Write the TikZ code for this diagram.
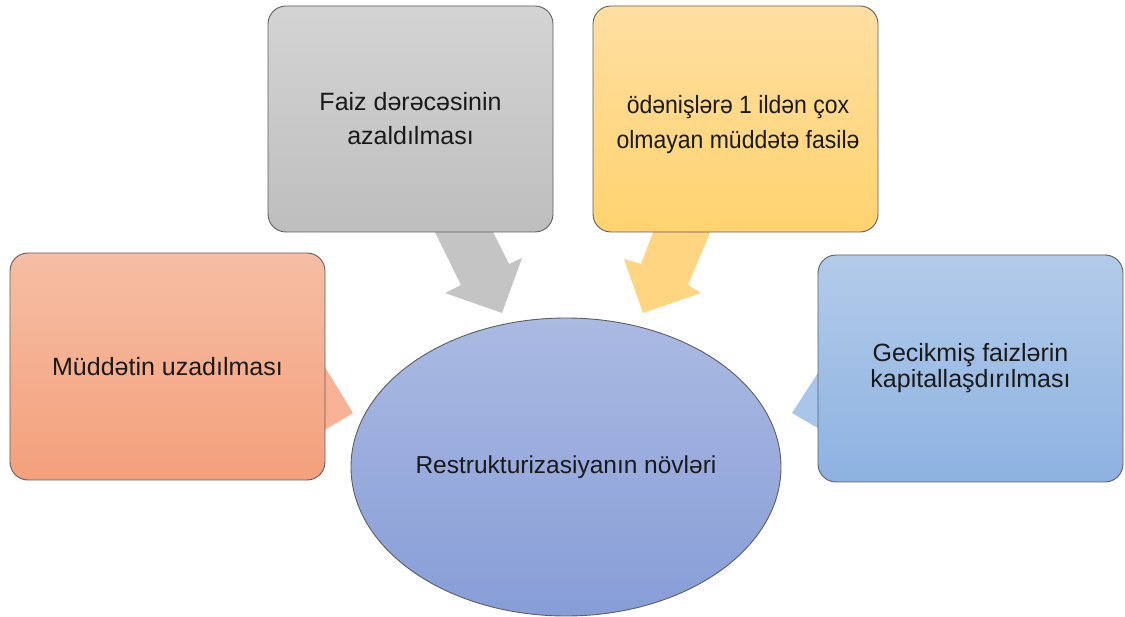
\documentclass[tikz,border=0pt]{standalone}
\usepackage{fontspec}
\setmainfont{Liberation Sans}
\usetikzlibrary{shapes.geometric}
\definecolor{grayT}{HTML}{D4D4D4}
\definecolor{grayB}{HTML}{BEBEBE}
\definecolor{orT}{HTML}{FFDFA2}
\definecolor{orB}{HTML}{FFD36E}
\definecolor{saT}{HTML}{F6BEA4}
\definecolor{saB}{HTML}{F4A07B}
\definecolor{blT}{HTML}{B3CBEA}
\definecolor{blB}{HTML}{8DB2E1}
\definecolor{elT}{HTML}{AABAE2}
\definecolor{elB}{HTML}{879DD7}
\definecolor{grayA}{HTML}{C4C4C4}
\definecolor{orA}{HTML}{FFD582}
\definecolor{saA}{HTML}{F7B296}
\definecolor{blA}{HTML}{A8C6EA}
\definecolor{edge}{HTML}{5E5E5E}
\definecolor{txt}{HTML}{1A1A1A}
\begin{document}
\begin{tikzpicture}[x=1pt,y=-1pt,
  box/.style={draw=edge, line width=0.9pt, rounded corners=18pt, align=center,
    text=txt, font=\fontsize{25}{34}\selectfont, inner sep=0pt},
  lbl/.style={align=center, text=txt, font=\fontsize{25}{35}\selectfont, inner sep=0pt},
  oval/.style={ellipse, draw=edge, line width=0.9pt, align=center, text=txt,
    font=\fontsize{24.5}{34}\selectfont, inner sep=0pt,
    minimum width=430pt, minimum height=298pt, top color=elT, bottom color=elB}
]
\useasboundingbox (0,0) rectangle (1125,617);
% arrows (behind boxes)
\fill[grayA] (426,214) -- (461,285) -- (445,293) -- (502,313) -- (522,258) -- (509,264) -- (484,214) -- cycle;
\fill[orA] (660,214) -- (641,264) -- (624,259) -- (643,313) -- (701,293) -- (688,285) -- (718,214) -- cycle;
\fill[saA] (300,326) -- (353,413) -- (300,445) -- cycle;
\fill[blA] (840,339) -- (792,413) -- (840,441) -- cycle;
% boxes
\node[box, minimum width=285pt, minimum height=226pt, top color=grayT, bottom color=grayB] (rate) at (410.5,119) {Faiz dərəcəsinin\\azaldılması};
\node[box, minimum width=285pt, minimum height=226pt, top color=orT, bottom color=orB] (pause) at (735.5,119) {};
\node[lbl] (pausetext) at (738,124.5) {\scalebox{0.92}[1]{ödənişlərə 1 ildən çox}\\\scalebox{0.92}[1]{olmayan müddətə fasilə}};
\node[box, minimum width=315pt, minimum height=227pt, top color=saT, bottom color=saB] (term) at (167.5,366.5) {Müddətin uzadılması};
\node[box, minimum width=305pt, minimum height=227pt, top color=blT, bottom color=blB, font=\fontsize{25}{26}\selectfont] (cap) at (970.5,368.5) {Gecikmiş faizlərin\\kapitallaşdırılması};
\node[oval] (center) at (566,467) {Restrukturizasiyanın növləri};
\end{tikzpicture}
\end{document}
